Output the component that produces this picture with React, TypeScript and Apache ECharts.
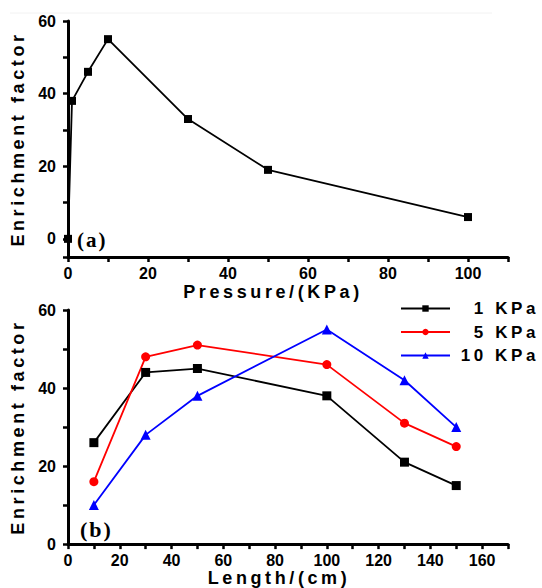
import React, { useEffect, useRef } from "react";
import * as echarts from "echarts";

// Panel (a): enrichment factor vs pressure
const pressure = [0, 1, 5, 10, 30, 50, 100];
const pressureEF = [0, 38, 46, 55, 33, 19, 6];

// Panel (b): enrichment factor vs length
const lengths = [10, 30, 50, 100, 130, 150];
const ef1KPa = [26, 44, 45, 38, 21, 15];
const ef5KPa = [16, 48, 51, 46, 31, 25];
const ef10KPa = [10, 28, 38, 55, 42, 30];

const seriesNames = ["1 KPa", "5 KPa", "10 KPa"];
const seriesColors = ["#000000", "#ff0000", "#0000ff"];
const seriesSymbols = ["rect", "circle", "triangle"];

const SPACED = "'Liberation Sans', Arimo";
const SPACED_SERIF = "'Liberation Serif', Tinos";
const PLAIN = "Liberation Sans";

const zip = (xs: number[], ys: number[]) => xs.map((x, i) => [x, ys[i]]);

const tickLabelFmt = (v: number) => (v % 20 === 0 ? String(v) : "");

function axisCommon() {
  return {
    axisLine: { onZero: false, lineStyle: { color: "#000", width: 3 } },
    axisTick: { show: true, length: 5, lineStyle: { color: "#000", width: 2.5 } },
    splitLine: { show: false },
    axisLabel: {
      color: "#000",
      fontSize: 16,
      fontWeight: "bold" as const,
      fontFamily: PLAIN,
      formatter: tickLabelFmt,
    },
    nameTextStyle: {
      color: "#000",
      fontSize: 18,
      fontWeight: "bold" as const,
      fontFamily: SPACED,
    },
  };
}

export default function App() {
  const ref = useRef<HTMLDivElement>(null);

  useEffect(() => {
    if (!ref.current) return;
    const chart = echarts.init(ref.current, null, { renderer: "svg" });
    const c = axisCommon();
    const lineSeries = (i: number, ys: number[]) => ({
      type: "line",
      name: seriesNames[i],
      xAxisIndex: 1,
      yAxisIndex: 1,
      data: zip(lengths, ys),
      symbol: seriesSymbols[i],
      symbolSize: i === 2 ? 10 : 9,
      lineStyle: { color: seriesColors[i], width: 1.8 },
      itemStyle: { color: seriesColors[i] },
    });
    chart.setOption({
      animation: false,
      backgroundColor: "#ffffff",
      grid: [
        { left: 68, top: 21, width: 440, height: 236 },
        { left: 68, top: 310, width: 440, height: 237 },
      ],
      xAxis: [
        {
          ...c,
          type: "value",
          gridIndex: 0,
          min: 0,
          max: 110,
          interval: 10,
          name: "Pressure/(KPa)",
          nameLocation: "middle",
          nameGap: 26,
          nameTextStyle: { ...c.nameTextStyle, padding: [0, 30, 0, 0] },
          axisLabel: { ...c.axisLabel, margin: 8 },
        },
        {
          ...c,
          type: "value",
          gridIndex: 1,
          min: 0,
          max: 170,
          interval: 10,
          name: "Length/(cm)",
          nameLocation: "middle",
          nameGap: 22,
          nameTextStyle: { ...c.nameTextStyle, padding: [0, 18, 0, 0] },
          axisLabel: { ...c.axisLabel, margin: 8 },
        },
      ],
      yAxis: [
        {
          ...c,
          type: "value",
          gridIndex: 0,
          min: -5,
          max: 60,
          minInterval: 10,
          maxInterval: 10,
          splitNumber: 6,
          name: "Enrichment factor",
          nameLocation: "middle",
          nameGap: 39,
          axisLabel: { ...c.axisLabel, margin: 12 },
        },
        {
          ...c,
          type: "value",
          gridIndex: 1,
          min: 0,
          max: 60,
          interval: 10,
          name: "Enrichment factor",
          nameLocation: "middle",
          nameGap: 39,
          axisLabel: { ...c.axisLabel, margin: 12 },
        },
      ],
      legend: {
        data: seriesNames,
        orient: "vertical",
        left: 395,
        top: 295,
        itemWidth: 49,
        itemHeight: 8,
        itemGap: 6.5,
        formatter: (name: string) => `{t|${name}}`,
        textStyle: {
          rich: {
            t: {
              width: 84,
              align: "right",
              fontSize: 17,
              fontWeight: "bold",
              fontFamily: SPACED,
              color: "#000",
              lineHeight: 20,
            },
          },
        },
      },
      graphic: [
        {
          type: "line",
          shape: { x1: 10, y1: 13, x2: 492, y2: 13 },
          style: { stroke: "#f2f2f2", lineWidth: 1 },
          silent: true,
        },
        {
          type: "text",
          x: 77,
          y: 240,
          style: {
            text: "(a)",
            fontSize: 21,
            fontWeight: "bold",
            fontFamily: SPACED_SERIF,
            fill: "#000",
            textVerticalAlign: "middle",
          },
        },
        {
          type: "text",
          x: 80,
          y: 529,
          style: {
            text: "(b)",
            fontSize: 22,
            fontWeight: "bold",
            fontFamily: SPACED_SERIF,
            fill: "#000",
            textVerticalAlign: "middle",
          },
        },
      ],
      series: [
        {
          type: "line",
          name: "Pressure",
          xAxisIndex: 0,
          yAxisIndex: 0,
          data: zip(pressure, pressureEF),
          symbol: "rect",
          symbolSize: 8,
          lineStyle: { color: "#000", width: 1.8 },
          itemStyle: { color: "#000" },
        },
        lineSeries(0, ef1KPa),
        lineSeries(1, ef5KPa),
        lineSeries(2, ef10KPa),
      ],
    });
    return () => chart.dispose();
  }, []);

  return (
    <>
      <style>{`
        text[style*="Arimo"], text[font-family*="Arimo"] { letter-spacing: 3.6px; }
        text[style*="Tinos"], text[font-family*="Tinos"] { letter-spacing: 2px; }
      `}</style>
      <div
        ref={ref}
        style={{ position: "absolute", left: 0, top: 0, width: 542, height: 588 }}
      />
    </>
  );
}
